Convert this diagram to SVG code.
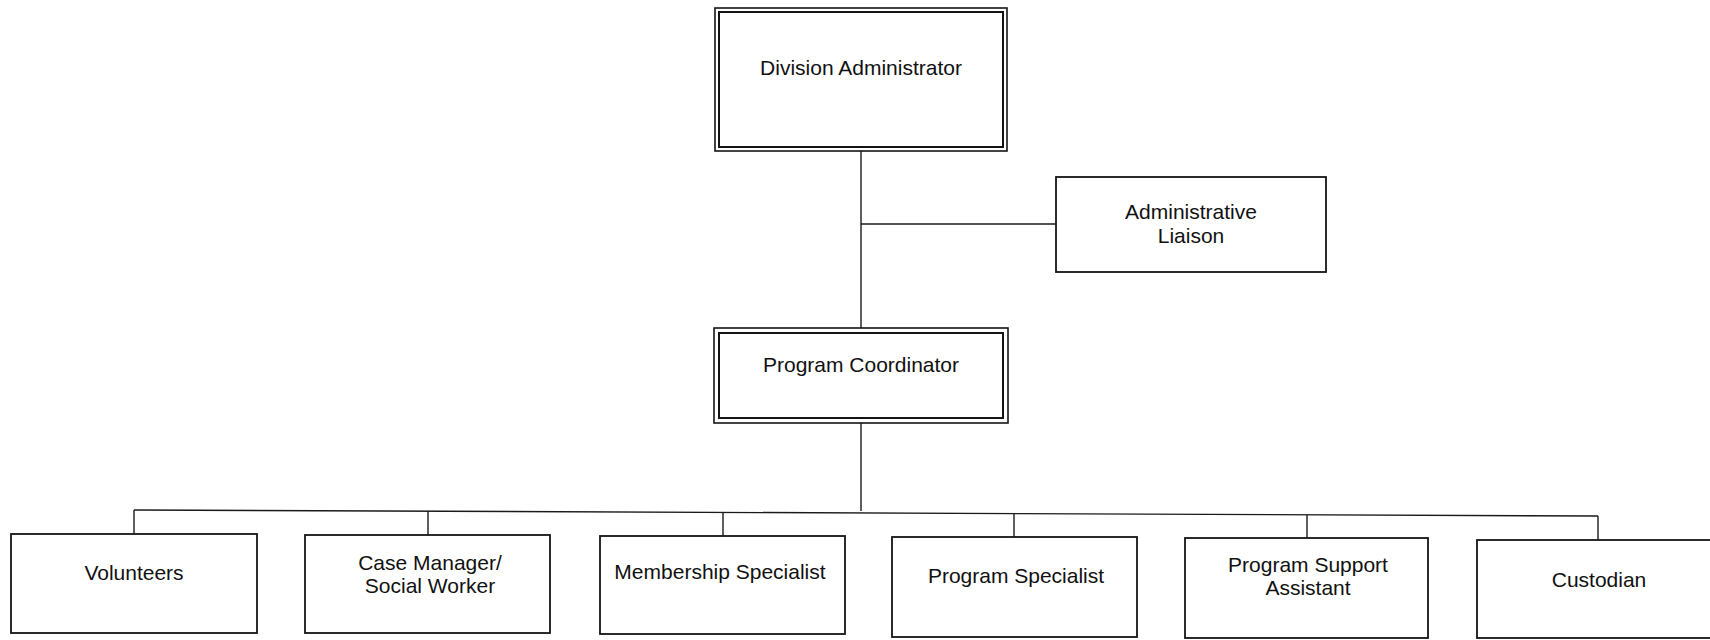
<svg xmlns="http://www.w3.org/2000/svg" width="1710" height="640" viewBox="0 0 1710 640">
<style>
.bg{fill:#ffffff}
.box{fill:#ffffff;stroke:#151515;stroke-width:1.8}
.outer{fill:#ffffff;stroke:#151515;stroke-width:1.6}
.inner{fill:none;stroke:#151515;stroke-width:2}
.con{fill:none;stroke:#1a1a1a;stroke-width:1.4}
text{font-family:"Liberation Sans",Arial,sans-serif;font-size:21px;fill:#111111;text-anchor:middle}
</style>
<rect class="bg" x="0" y="0" width="1710" height="640"/>
<g id="connectors">
<line class="con" x1="861" y1="151" x2="861" y2="328"/>
<line class="con" x1="861" y1="224" x2="1056" y2="224"/>
<line class="con" x1="861" y1="423" x2="861" y2="511"/>
<line class="con" x1="134" y1="510" x2="1598" y2="516"/>
<line class="con" x1="134" y1="510" x2="134" y2="534"/>
<line class="con" x1="428" y1="511" x2="428" y2="535"/>
<line class="con" x1="723" y1="512" x2="723" y2="536"/>
<line class="con" x1="1014" y1="514" x2="1014" y2="537"/>
<line class="con" x1="1307" y1="515" x2="1307" y2="538"/>
<line class="con" x1="1598" y1="516" x2="1598" y2="540"/>
</g>
<g id="division-administrator">
<rect class="outer" x="715" y="8" width="292" height="143"/>
<rect class="inner" x="719" y="12" width="284" height="135"/>
<text x="861" y="75">Division Administrator</text>
</g>
<g id="administrative-liaison">
<rect class="box" x="1056" y="177" width="270" height="95"/>
<text x="1191" y="219">Administrative</text>
<text x="1191" y="243">Liaison</text>
</g>
<g id="program-coordinator">
<rect class="outer" x="714" y="328" width="294" height="95"/>
<rect class="inner" x="719" y="333" width="284" height="85"/>
<text x="861" y="372">Program Coordinator</text>
</g>
<g id="volunteers">
<rect class="box" x="11" y="534" width="246" height="99"/>
<text x="134" y="580">Volunteers</text>
</g>
<g id="case-manager">
<rect class="box" x="305" y="535" width="245" height="98"/>
<text x="430" y="570">Case Manager/</text>
<text x="430" y="593">Social Worker</text>
</g>
<g id="membership-specialist">
<rect class="box" x="600" y="536" width="245" height="98"/>
<text x="720" y="579">Membership Specialist</text>
</g>
<g id="program-specialist">
<rect class="box" x="892" y="537" width="245" height="100"/>
<text x="1016" y="583">Program Specialist</text>
</g>
<g id="program-support-assistant">
<rect class="box" x="1185" y="538" width="243" height="100"/>
<text x="1308" y="572">Program Support</text>
<text x="1308" y="595">Assistant</text>
</g>
<g id="custodian">
<rect class="box" x="1477" y="540" width="240" height="98"/>
<text x="1599" y="587">Custodian</text>
</g>
</svg>
